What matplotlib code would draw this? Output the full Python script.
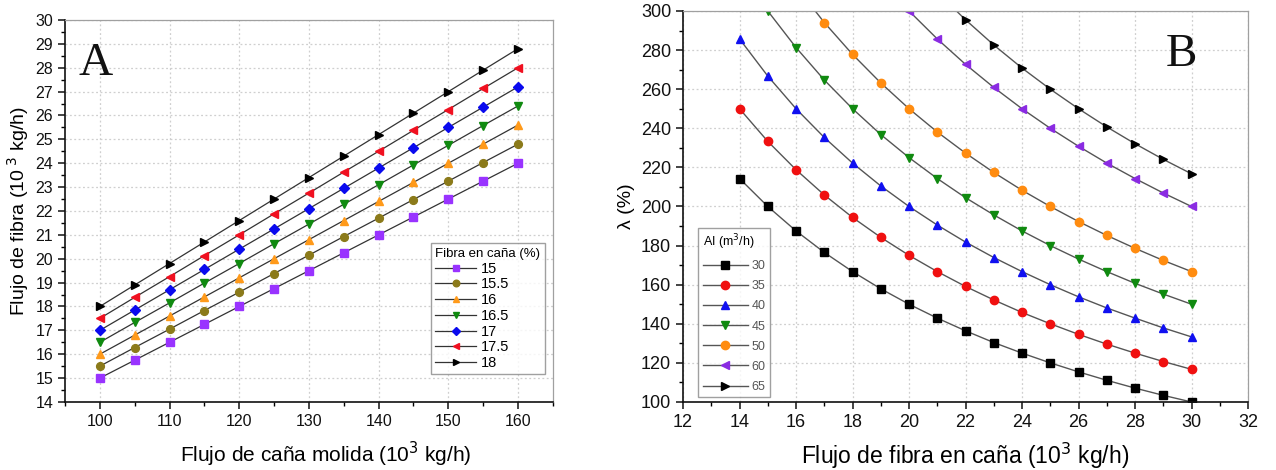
import matplotlib
matplotlib.use("Agg")
import matplotlib.pyplot as plt
from matplotlib.ticker import MultipleLocator

plt.rcParams['font.family'] = ['Liberation Sans', 'DejaVu Sans']

# ---- Panel A data: fibre flow vs milled cane flow ----
cane_flow = [100, 105, 110, 115, 120, 125, 130, 135, 140, 145, 150, 155, 160]
fibre_labels = ["15", "15.5", "16", "16.5", "17", "17.5", "18"]
fibre_15 = [15.0, 15.75, 16.5, 17.25, 18.0, 18.75, 19.5, 20.25, 21.0, 21.75, 22.5, 23.25, 24.0]
fibre_155 = [15.5, 16.28, 17.05, 17.83, 18.6, 19.38, 20.15, 20.93, 21.7, 22.48, 23.25, 24.03, 24.8]
fibre_16 = [16.0, 16.8, 17.6, 18.4, 19.2, 20.0, 20.8, 21.6, 22.4, 23.2, 24.0, 24.8, 25.6]
fibre_165 = [16.5, 17.33, 18.15, 18.98, 19.8, 20.63, 21.45, 22.28, 23.1, 23.93, 24.75, 25.58, 26.4]
fibre_17 = [17.0, 17.85, 18.7, 19.55, 20.4, 21.25, 22.1, 22.95, 23.8, 24.65, 25.5, 26.35, 27.2]
fibre_175 = [17.5, 18.38, 19.25, 20.13, 21.0, 21.88, 22.75, 23.63, 24.5, 25.38, 26.25, 27.13, 28.0]
fibre_18 = [18.0, 18.9, 19.8, 20.7, 21.6, 22.5, 23.4, 24.3, 25.2, 26.1, 27.0, 27.9, 28.8]
fibre_series = [fibre_15, fibre_155, fibre_16, fibre_165, fibre_17, fibre_175, fibre_18]

# ---- Panel B data: lambda vs fibre flow in cane ----
fibre_flow = [14, 15, 16, 17, 18, 19, 20, 21, 22, 23, 24, 25, 26, 27, 28, 29, 30]
ai_labels = ["30", "35", "40", "45", "50", "60", "65"]
lam_30 = [214.3, 200.0, 187.5, 176.5, 166.7, 157.9, 150.0, 142.9, 136.4, 130.4, 125.0, 120.0, 115.4, 111.1, 107.1, 103.4, 100.0]
lam_35 = [250.0, 233.3, 218.8, 205.9, 194.4, 184.2, 175.0, 166.7, 159.1, 152.2, 145.8, 140.0, 134.6, 129.6, 125.0, 120.7, 116.7]
lam_40 = [285.7, 266.7, 250.0, 235.3, 222.2, 210.5, 200.0, 190.5, 181.8, 173.9, 166.7, 160.0, 153.8, 148.1, 142.9, 137.9, 133.3]
lam_45 = [321.4, 300.0, 281.3, 264.7, 250.0, 236.8, 225.0, 214.3, 204.5, 195.7, 187.5, 180.0, 173.1, 166.7, 160.7, 155.2, 150.0]
lam_50 = [357.1, 333.3, 312.5, 294.1, 277.8, 263.2, 250.0, 238.1, 227.3, 217.4, 208.3, 200.0, 192.3, 185.2, 178.6, 172.4, 166.7]
lam_60 = [428.6, 400.0, 375.0, 352.9, 333.3, 315.8, 300.0, 285.7, 272.7, 260.9, 250.0, 240.0, 230.8, 222.2, 214.3, 206.9, 200.0]
lam_65 = [464.3, 433.3, 406.3, 382.4, 361.1, 342.1, 325.0, 309.5, 295.5, 282.6, 270.8, 260.0, 250.0, 240.7, 232.1, 224.1, 216.7]
lam_series = [lam_30, lam_35, lam_40, lam_45, lam_50, lam_60, lam_65]

colors_a = ["#9933ff", "#8b7a1a", "#ff9a1a", "#108a10", "#0a0aee", "#f01020", "#000000"]
markers_a = ["s", "o", "^", "v", "D", "<", ">"]
colors_b = ["#000000", "#f01010", "#1010f0", "#108a10", "#ff8c10", "#8a2be2", "#000000"]
markers_b = ["s", "o", "^", "v", "o", "<", ">"]

fig = plt.figure(figsize=(12.76, 4.70), dpi=100)
ax_a = fig.add_axes([0.0509, 0.1447, 0.3824, 0.8128])
ax_b = fig.add_axes([0.5353, 0.1447, 0.4428, 0.8319])


def style_axes(ax, labelsize):
    for side in ("top", "right"):
        ax.spines[side].set_color("#a0a0a0")
        ax.spines[side].set_linewidth(0.9)
    for side in ("left", "bottom"):
        ax.spines[side].set_color("#111111")
        ax.spines[side].set_linewidth(1.2)
    ax.tick_params(which="major", direction="out", length=5, width=1.1,
                   labelsize=labelsize, colors="#111111", top=False, right=False)
    ax.tick_params(which="minor", direction="out", length=3, width=1.0,
                   top=False, right=False)
    ax.grid(True, which="major", color="#cfcfcf", linestyle=(0, (1.5, 2)), linewidth=0.9)
    ax.set_axisbelow(True)


# Panel A
for vals, lab, c, m in zip(fibre_series, fibre_labels, colors_a, markers_a):
    ms = 4.8 if m == "D" else 5.6
    ax_a.plot(cane_flow, vals, color="#333333", linewidth=0.9, marker=m,
              markersize=ms, markerfacecolor=c, markeredgecolor=c, label=lab)
ax_a.set_xlim(95, 165)
ax_a.set_ylim(14, 30)
ax_a.xaxis.set_major_locator(MultipleLocator(10))
ax_a.xaxis.set_minor_locator(MultipleLocator(5))
ax_a.yaxis.set_major_locator(MultipleLocator(1))
ax_a.yaxis.set_minor_locator(MultipleLocator(0.5))
style_axes(ax_a, 11.5)
ax_a.set_xlabel("Flujo de caña molida (10$^3$ kg/h)", fontsize=15)
ax_a.xaxis.set_label_coords(0.535, -0.1)
ax_a.set_ylabel("Flujo de fibra (10$^{\\ 3}$ kg/h)", fontsize=14, labelpad=3)
ax_a.text(0.027, 0.855, "A", transform=ax_a.transAxes, fontsize=34,
          family=["Liberation Serif", "DejaVu Serif"], color="#111111")
leg_a = ax_a.legend(title="Fibra en caña (%)", loc="lower right",
                    bbox_to_anchor=(0.983, 0.072), fontsize=10.5, title_fontsize=9.5,
                    frameon=True, fancybox=False, edgecolor="#888888",
                    handlelength=2.8, handletextpad=0.3, labelspacing=0.12,
                    borderpad=0.3, borderaxespad=0.0, markerscale=0.85)
leg_a.get_frame().set_linewidth(1.0)
leg_a._legend_box.align = "left"

# Panel B
for vals, lab, c, m in zip(lam_series, ai_labels, colors_b, markers_b):
    ax_b.plot(fibre_flow, vals, color="#555555", linewidth=1.0, marker=m,
              markersize=6.0, markerfacecolor=c, markeredgecolor=c, label=lab)
ax_b.set_xlim(12, 32)
ax_b.set_ylim(100, 300)
ax_b.xaxis.set_major_locator(MultipleLocator(2))
ax_b.xaxis.set_minor_locator(MultipleLocator(1))
ax_b.yaxis.set_major_locator(MultipleLocator(20))
ax_b.yaxis.set_minor_locator(MultipleLocator(10))
style_axes(ax_b, 13)
ax_b.set_xlabel("Flujo de fibra en caña (10$^3$ kg/h)", fontsize=16.5, labelpad=7)
ax_b.set_ylabel("λ (%)", fontsize=14, labelpad=4)
ax_b.text(0.855, 0.86, "B", transform=ax_b.transAxes, fontsize=34,
          family=["Liberation Serif", "DejaVu Serif"], color="#111111")
leg_b = ax_b.legend(title="AI (m$^3$/h)", loc="lower left",
                    bbox_to_anchor=(0.027, 0.012), fontsize=9, title_fontsize=9,
                    frameon=True, fancybox=False, edgecolor="#888888",
                    handlelength=3.6, handletextpad=0.3, labelspacing=0.65,
                    borderpad=0.35, borderaxespad=0.0)
leg_b.get_frame().set_linewidth(1.0)
for t in leg_b.get_texts():
    t.set_color("#555555")
leg_b._legend_box.align = "left"

fig.savefig("out.png", dpi=100)
